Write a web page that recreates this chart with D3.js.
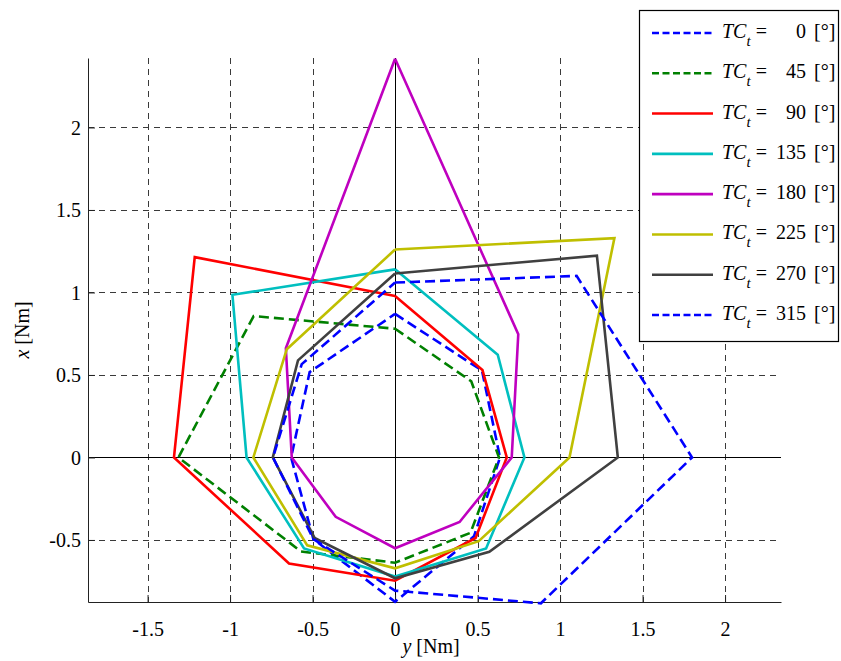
<!DOCTYPE html>
<html>
<head>
<meta charset="utf-8">
<script src="https://cdn.jsdelivr.net/npm/d3@7"></script>
<style>
  body { margin: 0; background: #fff; }
  svg { display: block; font-family: "Liberation Serif", "DejaVu Serif", serif; }
  .tick text { font-family: "Liberation Serif", serif; }
</style>
</head>
<body>
<svg id="chart" width="841" height="661"></svg>
<script>
// vertex directions (deg, measured from +x towards +y)
const angles = [0, 45, 90, 135, 180, 225, 270, 315];

// radius of each polygon vertex [Nm]
const tc0   = [0.87, 0.745, 0.636, 0.676, 0.875, 0.70, 0.63, 0.732];
const tc45  = [0.78, 0.653, 0.63, 0.646, 0.638, 0.806, 1.313, 1.212];
const tc90  = [0.978, 0.749, 0.677, 0.69, 0.747, 0.909, 1.34, 1.717];
const tc135 = [1.14, 0.88, 0.784, 0.78, 0.722, 0.78, 0.90, 1.394];
const tc180 = [2.416, 1.056, 0.707, 0.553, 0.55, 0.509, 0.626, 0.936];
const tc225 = [1.26, 1.88, 1.057, 0.717, 0.672, 0.753, 0.859, 0.928];
const tc270 = [1.115, 1.73, 1.35, 0.808, 0.732, 0.69, 0.741, 0.832];
const tc315 = [1.06, 1.556, 1.80, 1.25, 0.807, 0.70, 0.74, 0.80];

const tcValues = [0, 45, 90, 135, 180, 225, 270, 315];
const seriesData = [tc0, tc45, tc90, tc135, tc180, tc225, tc270, tc315];
const colors = ["#0000ff", "#008000", "#ff0000", "#00bfbf", "#bf00bf", "#bfbf00", "#404040", "#0000ff"];
const dashed = [true, true, false, false, false, false, false, true];

const xTicks = [-1.5, -1, -0.5, 0, 0.5, 1, 1.5, 2];
const yTicks = [-0.5, 0, 0.5, 1, 1.5, 2];

const pLeft = 88, pRight = 781, pTop = 58, pBottom = 602;

const svg = d3.select("#chart");

const xScale = d3.scaleLinear().domain([-1.861, 2.339]).range([pLeft, pRight]);
const yScale = d3.scaleLinear().domain([-0.876, 2.421]).range([pBottom, pTop]);

// grid
const grid = svg.append("g");
grid.selectAll(".vg").data(xTicks).enter().append("line")
  .attr("x1", d => Math.round(xScale(d)) + 0.5).attr("x2", d => Math.round(xScale(d)) + 0.5)
  .attr("y1", pTop).attr("y2", pBottom)
  .attr("stroke", "#3a3a3a").attr("stroke-width", 1).attr("stroke-dasharray", "6,5");
grid.selectAll(".hg").data(yTicks).enter().append("line")
  .attr("y1", d => Math.round(yScale(d)) + 0.5).attr("y2", d => Math.round(yScale(d)) + 0.5)
  .attr("x1", pLeft).attr("x2", pRight)
  .attr("stroke", "#3a3a3a").attr("stroke-width", 1).attr("stroke-dasharray", "6,5");

// zero lines
svg.append("line")
  .attr("x1", pLeft).attr("x2", pRight)
  .attr("y1", Math.round(yScale(0)) + 0.5).attr("y2", Math.round(yScale(0)) + 0.5)
  .attr("stroke", "#000").attr("stroke-width", 1);
svg.append("line")
  .attr("x1", Math.round(xScale(0)) + 0.5).attr("x2", Math.round(xScale(0)) + 0.5)
  .attr("y1", pTop).attr("y2", pBottom)
  .attr("stroke", "#000").attr("stroke-width", 1);

// axes (ticks inside)
const fmt = d => String(d);
const xAxis = svg.append("g")
  .attr("transform", `translate(0,${pBottom})`)
  .call(d3.axisBottom(xScale).tickValues(xTicks).tickSizeInner(-7).tickSizeOuter(0).tickPadding(20).tickFormat(fmt));
const yAxis = svg.append("g")
  .attr("transform", `translate(${pLeft},0)`)
  .call(d3.axisLeft(yScale).tickValues(yTicks).tickSizeInner(-7).tickSizeOuter(0).tickPadding(7).tickFormat(fmt));
[xAxis, yAxis].forEach(a => {
  a.attr("font-family", "Liberation Serif").attr("font-size", 20);
  a.select(".domain").attr("stroke", "#222");
  a.selectAll(".tick line").attr("stroke", "#222");
  a.selectAll("text").attr("fill", "#000");
});
xAxis.selectAll("text").attr("dy", "0.71em");
yAxis.selectAll("text").attr("dy", "0.33em");

// polygons
const line = d3.line().x(d => xScale(d[0])).y(d => yScale(d[1]));
seriesData.forEach((radii, i) => {
  const pts = radii.map((r, k) => {
    const a = angles[k] * Math.PI / 180;
    return [r * Math.sin(a), r * Math.cos(a)];
  });
  pts.push(pts[0]);
  svg.append("path")
    .attr("d", line(pts))
    .attr("fill", "none")
    .attr("stroke", colors[i])
    .attr("stroke-width", 2.6)
    .attr("stroke-linejoin", "miter")
    .attr("stroke-dasharray", dashed[i] ? "10,5" : null);
});

// axis labels
svg.append("text")
  .attr("x", 431).attr("y", 653)
  .attr("text-anchor", "middle").attr("font-size", 20)
  .html('<tspan font-style="italic">y</tspan> [Nm]');
svg.append("text")
  .attr("transform", "translate(29,330) rotate(-90)")
  .attr("text-anchor", "middle").attr("font-size", 20)
  .html('<tspan font-style="italic">x</tspan> [Nm]');

// legend
const legend = svg.append("g");
legend.append("rect")
  .attr("x", 639.5).attr("y", 10.5).attr("width", 199).attr("height", 331)
  .attr("fill", "#fff").attr("stroke", "#000").attr("stroke-width", 1.2);
const legY = d3.scaleLinear().domain([0, 7]).range([33, 315]);
tcValues.forEach((v, i) => {
  const y = legY(i);
  legend.append("line")
    .attr("x1", 652).attr("x2", 713).attr("y1", y).attr("y2", y)
    .attr("stroke", colors[i]).attr("stroke-width", 2.6)
    .attr("stroke-dasharray", dashed[i] ? "7,3.5" : null);
  const t = legend.append("text").attr("x", 722).attr("y", y + 5).attr("font-size", 20);
  t.append("tspan").attr("font-style", "italic").text("TC");
  t.append("tspan").attr("font-style", "italic").attr("font-size", 15).attr("dy", 8).text("t");
  t.append("tspan").attr("dy", -8).attr("dx", 5).text("=");
  legend.append("text")
    .attr("x", 806).attr("y", y + 5).attr("font-size", 20).attr("text-anchor", "end")
    .text(v);
  legend.append("text")
    .attr("x", 814).attr("y", y + 5).attr("font-size", 20)
    .text("[°]");
});
</script>
</body>
</html>
